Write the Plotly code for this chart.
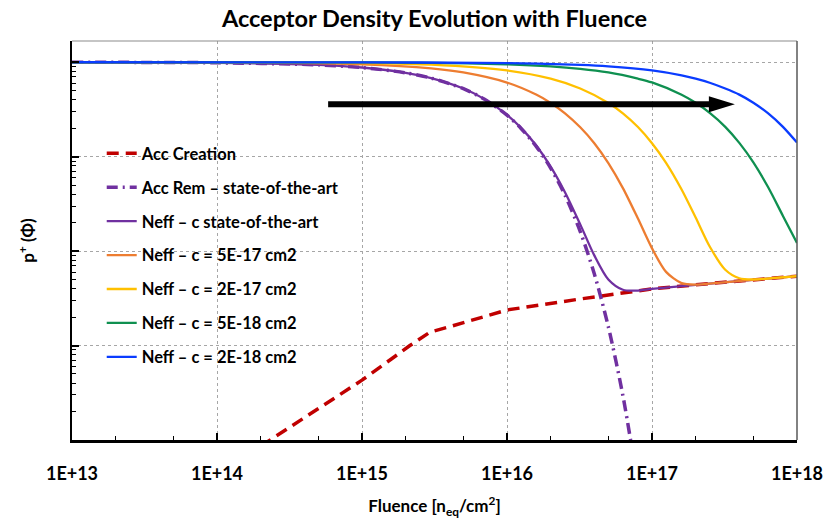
import plotly.graph_objects as go

# ---------------- data ----------------
x_tick_vals = [1e13, 1e14, 1e15, 1e16, 1e17, 1e18]
x_tick_text = ["1E+13", "1E+14", "1E+15", "1E+16", "1E+17", "1E+18"]

fluence_creation = [2.0e14, 5e14, 1e15, 2.14e15, 2.95e15, 4e15, 6e15, 1e16, 3e16, 1e17, 3e17, 1e18]
acc_creation = [8.6e9, 2.15e10, 4.3e10, 1.0e11, 1.39e11, 1.58e11, 1.88e11, 2.38e11, 3.07e11, 3.98e11, 4.65e11, 5.43e11]

fluence_rem = [1e13, 1e14, 5e14, 1e15, 2e15, 3e15, 5e15, 7e15, 1e16, 1.25e16, 1.6e16, 2e16,
               2.5e16, 3.2e16, 4e16, 5e16, 6.3e16, 8e16]
acc_rem = [9.99e13, 9.87e13, 9.38e13, 8.79e13, 7.73e13, 6.79e13, 5.25e13, 4.05e13, 2.75e13, 1.99e13,
           1.27e13, 7.58e12, 3.97e12, 1.61e12, 5.75e11, 1.58e11, 2.95e10, 3.3e9]

fluence_sota = [1e13, 1e14, 5e14, 1e15, 2e15, 3e15, 5e15, 7e15, 1e16, 1.25e16, 1.6e16, 2e16, 2.5e16,
                3.2e16, 4e16, 5e16, 6.3e16, 8e16, 1e17, 3e17, 1e18]
neff_sota = [9.99e13, 9.87e13, 9.38e13, 8.80e13, 7.74e13, 6.80e13, 5.27e13, 4.07e13, 2.77e13, 2.02e13,
             1.30e13, 7.86e12, 4.26e12, 1.92e12, 9.02e11, 5.01e11, 3.90e11, 3.82e11, 3.98e11, 4.65e11, 5.43e11]

fluence_c5e17 = [1e13, 1e14, 1e15, 3e15, 5e15, 1e16, 1.6e16, 2e16, 2.5e16, 3.2e16, 4e16, 5e16, 6.3e16,
                 8e16, 1e17, 1.25e17, 1.6e17, 2e17, 3e17, 1e18]
neff_c5e17 = [1.0e14, 9.95e13, 9.51e13, 8.61e13, 7.79e13, 6.09e13, 4.52e13, 3.71e13, 2.90e13, 2.05e13,
              1.39e13, 8.55e12, 4.65e12, 2.21e12, 1.07e12, 6.03e11, 4.58e11, 4.42e11, 4.65e11, 5.43e11]

fluence_c2e17 = [1e13, 1e14, 1e15, 3e15, 1e16, 2e16, 3.2e16, 5e16, 6.3e16, 8e16, 1e17, 1.25e17, 1.6e17,
                 2e17, 2.5e17, 3.2e17, 4e17, 5e17, 6.3e17, 1e18]
neff_c2e17 = [1.0e14, 9.98e13, 9.80e13, 9.42e13, 8.19e13, 6.70e13, 5.27e13, 3.71e13, 2.88e13, 2.06e13,
              1.39e13, 8.62e12, 4.50e12, 2.27e12, 1.12e12, 6.35e11, 5.16e11, 5.01e11, 5.12e11, 5.43e11]

fluence_c5e18 = [1e13, 1e15, 3e15, 1e16, 2e16, 3.2e16, 5e16, 8e16, 1e17, 1.6e17, 2e17, 2.5e17, 3.2e17,
                 4e17, 5e17, 6.3e17, 8e17, 1e18]
neff_c5e18 = [1.0e14, 9.95e13, 9.85e13, 9.51e13, 9.05e13, 8.52e13, 7.79e13, 6.70e13, 6.11e13, 4.53e13,
              3.72e13, 2.91e13, 2.07e13, 1.40e13, 8.71e12, 4.80e12, 2.36e12, 1.22e12]

fluence_c2e18 = [1e13, 1e15, 1e16, 3.2e16, 5e16, 1e17, 1.6e17, 2e17, 2.5e17, 3.2e17, 4e17, 5e17,
                 6.3e17, 8e17, 1e18]
neff_c2e18 = [1.0e14, 9.98e13, 9.80e13, 9.38e13, 9.05e13, 8.19e13, 7.26e13, 6.70e13, 6.07e13, 5.27e13,
              4.54e13, 3.73e13, 2.89e13, 2.07e13, 1.41e13]

series_names = [
    "Acc Creation",
    "Acc Rem \u2013 state-of-the-art",
    "Neff \u2013 c state-of-the-art",
    "Neff \u2013 c = 5E-17 cm2",
    "Neff \u2013 c = 2E-17 cm2",
    "Neff \u2013 c = 5E-18 cm2",
    "Neff \u2013 c = 2E-18 cm2",
]

# arrow (fluence / density values)
arrow_tail_fluence = 5.84e14
arrow_head_fluence = 3.73e17
arrow_shaft_end_fluence = 2.9e17
arrow_level = 3.6e13

# ---------------- figure ----------------
FONT = "Lato, Carlito, 'Open Sans', sans-serif"

fig = go.Figure()

styles = [
    (fluence_creation, acc_creation, "#C00000", 3.5, "12px,7px", "linear"),
    (fluence_rem, acc_rem, "#7030A0", 3.5, "11px,5px,2px,5px", "spline"),
    (fluence_sota, neff_sota, "#7030A0", 2.3, "solid", "spline"),
    (fluence_c5e17, neff_c5e17, "#ED7D31", 2.3, "solid", "spline"),
    (fluence_c2e17, neff_c2e17, "#FFC000", 2.3, "solid", "spline"),
    (fluence_c5e18, neff_c5e18, "#0F9050", 2.3, "solid", "spline"),
    (fluence_c2e18, neff_c2e18, "#0A3CFF", 2.3, "solid", "spline"),
]

for i, (xs, ys, col, w, dash, shape) in enumerate(styles):
    fig.add_trace(go.Scatter(
        x=xs, y=ys, mode="lines", name=series_names[i], legendgroup=f"g{i}",
        line=dict(color=col, width=w, dash=dash, shape=shape, smoothing=0.8 if shape == "spline" else None),
    ))

fig.update_layout(
    width=827, height=519,
    margin=dict(l=72, r=30, t=41, b=79, autoexpand=False),
    plot_bgcolor="white", paper_bgcolor="white",
    font=dict(family=FONT, color="black"),
    title=dict(text="Acceptor Density Evolution with Fluence", x=0.5, xref="paper", xanchor="center",
               y=1 - 19 / 519, yref="container", yanchor="middle",
               font=dict(size=23.5, weight="bold", family=FONT, color="black")),
    legend=dict(x=0.041, y=0.762, xanchor="left", yanchor="top", bgcolor="rgba(0,0,0,0)",
                font=dict(size=16.5, weight="bold", family=FONT, color="black"),
                tracegroupgap=9.5, traceorder="grouped"),
    showlegend=True,
)

fig.update_xaxes(
    type="log", range=[13, 18], automargin=False,
    tickmode="array", tickvals=x_tick_vals, ticktext=x_tick_text,
    ticks="inside", ticklen=7, tickwidth=1.5, tickcolor="black",
    showline=True, linecolor="black", linewidth=2.5, mirror=False,
    showgrid=True, gridcolor="#a6a6a6", gridwidth=1, griddash="dot",
    zeroline=False,
    tickfont=dict(size=18, weight="bold", family=FONT, color="black"),
    ticklabelstandoff=16,
    minor=dict(ticks="inside", ticklen=4, tickcolor="black", tickwidth=1.2, showgrid=False),
    title=dict(text="Fluence [n<sub>eq</sub>/cm<sup>2</sup>]", standoff=27,
               font=dict(size=17, weight="bold", family=FONT, color="black")),
)

fig.update_yaxes(
    type="log", range=[10, 14.225], automargin=False,
    tickmode="linear", tick0=0, dtick=1,
    showticklabels=False,
    ticks="inside", ticklen=7, tickwidth=1.5, tickcolor="black",
    showline=True, linecolor="black", linewidth=2, mirror=False,
    showgrid=True, gridcolor="#a6a6a6", gridwidth=1, griddash="dot",
    zeroline=False,
    minor=dict(ticks="inside", ticklen=4, tickcolor="black", tickwidth=1.2, showgrid=False),
    title=dict(text="p<sup>+</sup> (\u03a6)", standoff=31,
               font=dict(size=17, weight="bold", family=FONT, color="black")),
)

# top / right frame lines (thin grey)
fig.add_shape(type="line", xref="x domain", yref="y domain", x0=0, x1=1, y0=1, y1=1,
              line=dict(color="#8c8c8c", width=1.2), layer="above")
fig.add_shape(type="line", xref="x domain", yref="y domain", x0=1, x1=1, y0=0, y1=1,
              line=dict(color="#595959", width=1.5), layer="above")

# black arrow: shaft + head
fig.add_shape(type="line", xref="x", yref="y", x0=arrow_tail_fluence, x1=arrow_shaft_end_fluence,
              y0=arrow_level, y1=arrow_level, line=dict(color="black", width=6), layer="above")
fig.add_shape(type="path", xref="x", yref="y", xsizemode="pixel", ysizemode="pixel",
              xanchor=arrow_head_fluence, yanchor=arrow_level,
              path="M 0,0 L -26,8 L -26,-8 Z", fillcolor="black", line=dict(width=0), layer="above")

fig.write_html("out.html", config={"displayModeBar": False},
               post_script="document.body.style.margin='0';")
